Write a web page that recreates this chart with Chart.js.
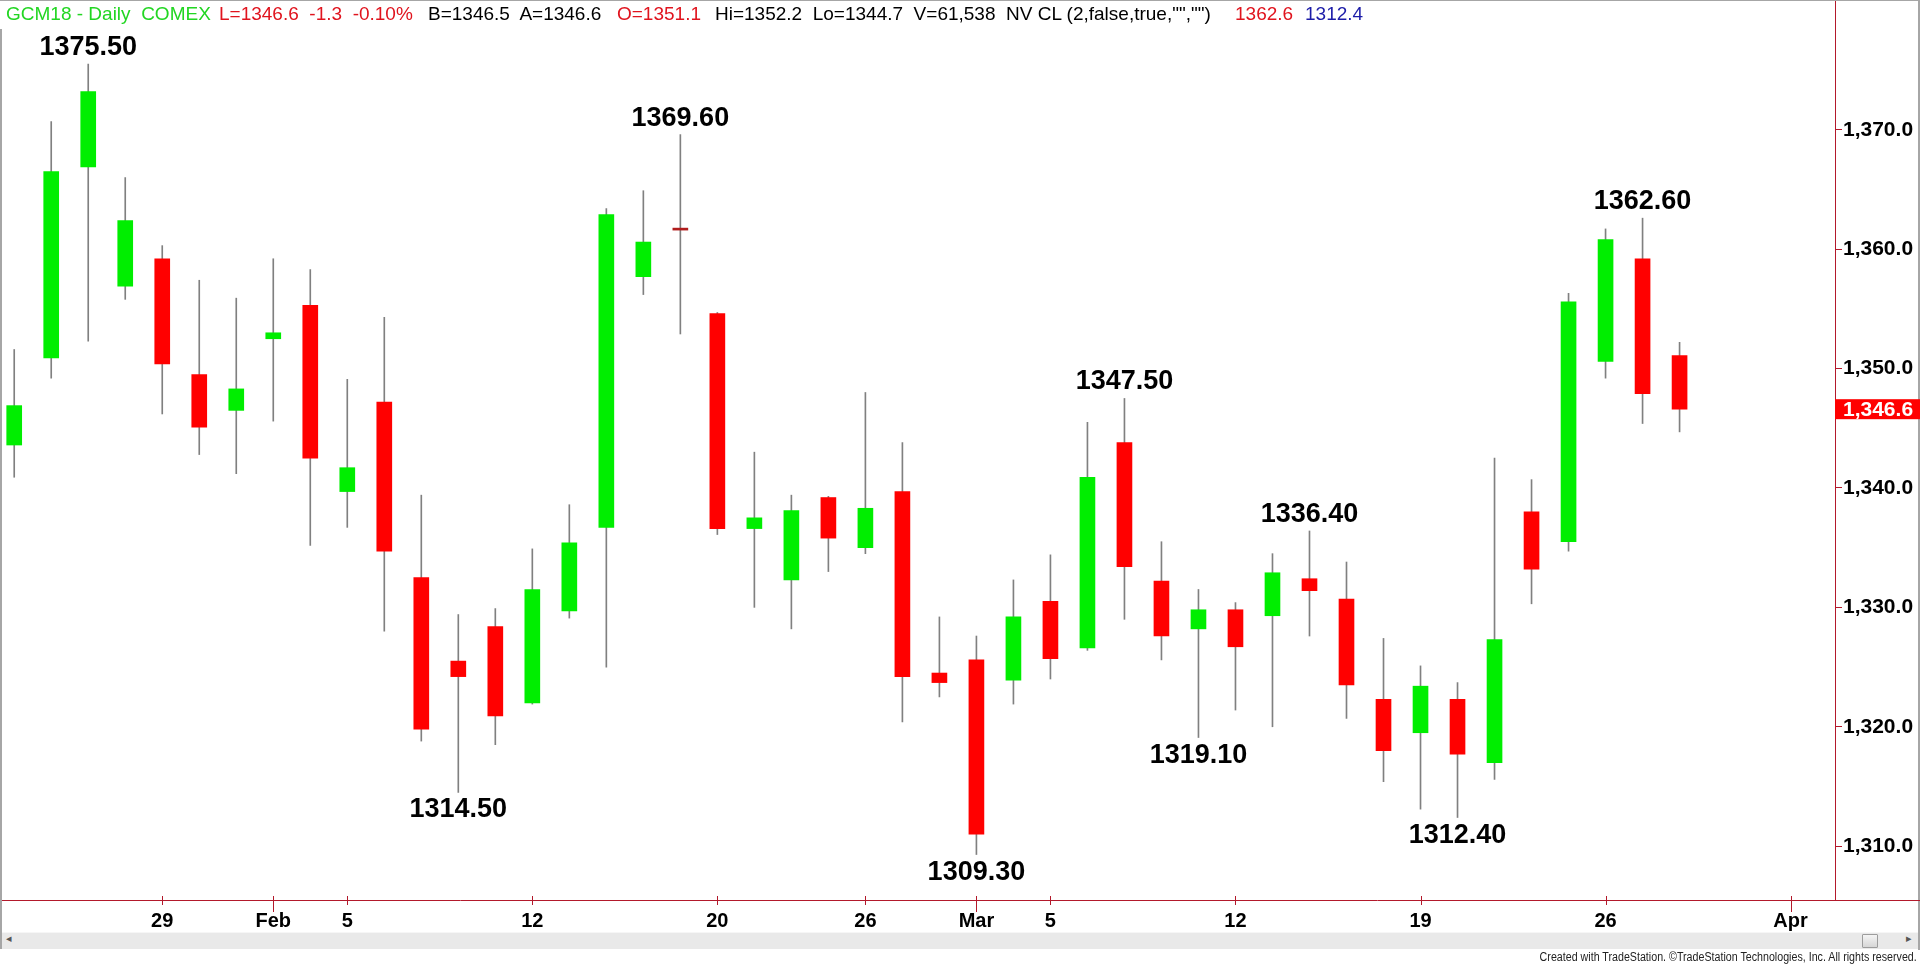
<!DOCTYPE html>
<html>
<head>
<meta charset="utf-8">
<script src="https://cdn.jsdelivr.net/npm/chart.js@4.4.1/dist/chart.umd.min.js"></script>
<style>
  html, body { margin: 0; padding: 0; background: #fff; }
  #wrap { position: relative; width: 1920px; height: 964px; overflow: hidden; }
  #chart { position: absolute; left: 0; top: 0; }
  .hdr { position: absolute; top: 3px; font: 19px "Liberation Sans", Arial, sans-serif; white-space: pre; line-height: 22px; }
  .g { color: #22d622; } .r { color: #e0141e; } .k { color: #000; } .b { color: #1c1ca8; }
  #scroll { position: absolute; left: 2px; top: 932px; width: 1916px; height: 16px; background: #e9e9e9; border-top: 1px solid #f6f6f6; }
  #thumb { position: absolute; left: 1860px; top: 1px; width: 14px; height: 12px; background: linear-gradient(#f4f4f4, #d6d6d6); border: 1px solid #9c9c9c; border-radius: 1px; }
  .arr { position: absolute; top: -1px; font: 11px "DejaVu Sans", sans-serif; color: #555; }
  #copy { position: absolute; right: 3px; top: 950px; font: 12px "Liberation Sans", Arial, sans-serif; color: #222; white-space: pre; transform: scaleX(0.89); transform-origin: right center; }
</style>
</head>
<body>
<div id="wrap">
  <canvas id="chart"></canvas>
  <span class="hdr g" style="left:6px">GCM18 - Daily  COMEX</span>
  <span class="hdr r" style="left:219px">L=1346.6  -1.3  -0.10%</span>
  <span class="hdr k" style="left:428px">B=1346.5  A=1346.6</span>
  <span class="hdr r" style="left:617px">O=1351.1</span>
  <span class="hdr k" style="left:715px">Hi=1352.2  Lo=1344.7  V=61,538  NV CL (2,false,true,"","")</span>
  <span class="hdr r" style="left:1235px">1362.6</span>
  <span class="hdr b" style="left:1305px">1312.4</span>
  <div id="scroll"><span class="arr" style="left:4px">&#9666;</span><div id="thumb"></div><span class="arr" style="left:1904px">&#9656;</span></div>
  <div id="copy">Created with TradeStation. ©TradeStation Technologies, Inc. All rights reserved.</div>
</div>
<script>
// daily gold futures (GCM18), Jan 23 - Mar 28 2018
const dates  = ['Jan 23','Jan 24','Jan 25','Jan 26','Jan 29','Jan 30','Jan 31','Feb 1','Feb 2','Feb 5',
                'Feb 6','Feb 7','Feb 8','Feb 9','Feb 12','Feb 13','Feb 14','Feb 15','Feb 16','Feb 20',
                'Feb 21','Feb 22','Feb 23','Feb 26','Feb 27','Feb 28','Mar 1','Mar 2','Mar 5','Mar 6',
                'Mar 7','Mar 8','Mar 9','Mar 12','Mar 13','Mar 14','Mar 15','Mar 16','Mar 19','Mar 20',
                'Mar 21','Mar 22','Mar 23','Mar 26','Mar 27','Mar 28'];
const opens  = [1343.6,1350.9,1366.9,1356.9,1359.2,1349.5,1346.5,1352.5,1355.3,1339.7,
                1347.2,1332.5,1325.5,1328.4,1322.0,1329.7,1336.7,1357.7,1361.6,1354.6,
                1336.6,1332.3,1339.2,1335.0,1339.7,1324.5,1325.6,1323.9,1330.5,1326.6,
                1343.8,1332.2,1328.2,1329.8,1329.3,1332.4,1330.7,1322.3,1319.5,1322.3,
                1317.0,1338.0,1335.5,1350.6,1359.2,1351.1];
const highs  = [1351.6,1370.7,1375.5,1366.0,1360.3,1357.4,1355.9,1359.2,1358.3,1349.1,
                1354.3,1339.4,1329.4,1329.9,1334.9,1338.6,1363.4,1364.9,1369.6,1354.7,
                1343.0,1339.4,1339.3,1348.0,1343.8,1329.2,1327.6,1332.3,1334.4,1345.5,
                1347.5,1335.5,1331.5,1330.4,1334.5,1336.4,1333.8,1327.4,1325.1,1323.7,
                1342.5,1340.7,1356.3,1361.7,1362.6,1352.2];
const lows   = [1340.9,1349.2,1352.3,1355.8,1346.2,1342.8,1341.2,1345.6,1335.2,1336.7,
                1328.0,1318.8,1314.5,1318.5,1321.9,1329.1,1325.0,1356.2,1352.9,1336.1,
                1330.0,1328.2,1333.0,1334.5,1320.4,1322.5,1309.3,1321.9,1324.0,1326.4,
                1329.0,1325.6,1319.1,1321.4,1320.0,1327.6,1320.7,1315.4,1313.1,1312.4,
                1315.6,1330.3,1334.7,1349.2,1345.4,1344.7];
const closes = [1346.9,1366.5,1373.2,1362.4,1350.4,1345.1,1348.3,1353.0,1342.5,1341.7,
                1334.7,1319.8,1324.2,1320.9,1331.5,1335.4,1362.9,1360.6,1361.6,1336.6,
                1337.5,1338.1,1335.8,1338.3,1324.2,1323.7,1311.0,1329.2,1325.7,1340.9,
                1333.4,1327.6,1329.8,1326.7,1332.9,1331.4,1323.5,1318.0,1323.4,1317.7,
                1327.3,1333.2,1355.6,1360.8,1347.9,1346.6];

// date axis (bar index -> label), Apr 2 is a future slot
const xTickIdx    = [4, 7, 9, 14, 19, 23, 26, 28, 33, 38, 43, 48];
const xTickLabels = ['29', 'Feb', '5', '12', '20', '26', 'Mar', '5', '12', '19', '26', 'Apr'];
const monthTickIdx = [7, 26, 48];
const yTicks = [1310, 1320, 1330, 1340, 1350, 1360, 1370];

// swing high / low callouts
const markIdx  = [2, 12, 18, 26, 30, 32, 35, 39, 44];
const markSide = ['high', 'low', 'high', 'low', 'high', 'low', 'high', 'low', 'high'];

const UP = '#00ee00', DOWN = '#ff0000', FLAT = '#b01c1c', WICK = '#808080', AXIS = '#b3192b';
const FONT = "'Liberation Sans', Arial, sans-serif";

const bodyColors = opens.map((o, i) => closes[i] > o ? UP : (closes[i] < o ? DOWN : FLAT));
const fmt1 = v => v.toLocaleString('en-US', {minimumFractionDigits: 1, maximumFractionDigits: 1});

// no label padding, so the plot area fills the frame exactly
const noPad = s => { s.paddingTop = 0; s.paddingBottom = 0; s.paddingLeft = 0; s.paddingRight = 0; };

const extras = {
  id: 'extras',
  afterDraw(chart) {
    const ctx = chart.ctx, xs = chart.scales.x, ys = chart.scales.y, area = chart.chartArea;
    ctx.save();
    // frame
    ctx.fillStyle = '#a6a6a6';
    ctx.fillRect(0, 0, 1920, 1);
    ctx.fillRect(0, 29, 2, 920);
    ctx.fillRect(1918, 0, 2, 950);
    // axis line runs on under the price scale
    ctx.fillStyle = AXIS;
    ctx.fillRect(area.right, area.bottom, 1920 - area.right, 1);
    // date tick marks, month ticks longer
    xTickIdx.forEach(v => {
      const px = Math.round(xs.getPixelForValue(v)) + 0.5;
      const long = monthTickIdx.includes(v);
      ctx.strokeStyle = AXIS; ctx.lineWidth = 1;
      ctx.beginPath(); ctx.moveTo(px, area.bottom - 4); ctx.lineTo(px, area.bottom + (long ? 12 : 5)); ctx.stroke();
    });
    // last price box
    const last = closes[closes.length - 1];
    const ly = ys.getPixelForValue(last);
    ctx.fillStyle = '#ff0000';
    ctx.fillRect(area.right, ly - 10, 1920 - area.right, 20);
    ctx.fillStyle = '#fff';
    ctx.font = 'bold 21px ' + FONT;
    ctx.textBaseline = 'middle'; ctx.textAlign = 'left';
    ctx.fillText(fmt1(last), area.right + 8, ly + 1);
    // callouts
    ctx.fillStyle = '#000';
    ctx.font = 'bold 27px ' + FONT;
    ctx.textAlign = 'center'; ctx.textBaseline = 'alphabetic';
    markIdx.forEach((i, k) => {
      const px = xs.getPixelForValue(i);
      if (markSide[k] === 'high') {
        ctx.fillText(highs[i].toFixed(2), px, ys.getPixelForValue(highs[i]) - 9);
      } else {
        ctx.fillText(lows[i].toFixed(2), px, ys.getPixelForValue(lows[i]) + 25);
      }
    });
    ctx.restore();
  }
};

new Chart(document.getElementById('chart'), {
  type: 'bar',
  data: {
    labels: dates,
    datasets: [
      {label: 'body', data: opens.map((o, i) => ({x: i, y: [o, closes[i]]})), backgroundColor: bodyColors,
       barThickness: 15, minBarLength: 2, grouped: false, order: 0, borderWidth: 0},
      {label: 'range', data: lows.map((l, i) => ({x: i, y: [l, highs[i]]})), backgroundColor: WICK,
       barThickness: 1, grouped: false, order: 1, borderWidth: 0}
    ]
  },
  options: {
    responsive: true,
    maintainAspectRatio: false,
    animation: false,
    events: [],
    layout: {padding: {left: 2, top: 1, right: 0, bottom: 0}},
    plugins: {legend: {display: false}, tooltip: {enabled: false}},
    scales: {
      x: {
        type: 'linear', offset: false, min: -0.33, max: 49.2,
        afterBuildTicks: s => { s.ticks = xTickIdx.map(v => ({value: v})); },
        afterFit: s => { s.height = 64; noPad(s); },
        grid: {display: false},
        border: {display: true, color: AXIS, width: 1},
        ticks: {autoSkip: false, maxRotation: 0, padding: 1, color: '#000',
                font: {family: FONT, size: 20, weight: 'bold'},
                callback: v => xTickLabels[xTickIdx.indexOf(v)]}
      },
      y: {
        position: 'right', min: 1305.49, max: 1380.79,
        afterBuildTicks: s => { s.ticks = yTicks.map(v => ({value: v})); },
        afterFit: s => { s.width = 85; noPad(s); },
        grid: {drawOnChartArea: false, drawTicks: true, tickLength: 7, color: AXIS},
        border: {display: true, color: AXIS, width: 1},
        ticks: {padding: 1, color: '#000', font: {family: FONT, size: 21, weight: 'bold'}, callback: v => fmt1(v)}
      }
    }
  },
  plugins: [extras]
});
</script>
</body>
</html>
